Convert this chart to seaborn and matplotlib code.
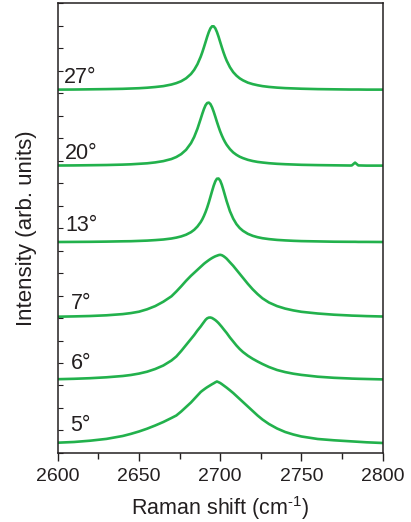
import matplotlib
matplotlib.use("Agg")
import matplotlib.pyplot as plt
import seaborn as sns
import pandas as pd

# Raman shift sample positions (cm^-1)
raman_shift = [2600, 2610, 2620, 2630, 2640, 2645, 2650, 2655, 2660, 2665,
               2670, 2673, 2676, 2679, 2682, 2684, 2686, 2688, 2689, 2690,
               2691, 2692, 2693, 2694, 2695, 2696, 2697, 2698, 2699, 2700,
               2701, 2702, 2703, 2704, 2706, 2708, 2710, 2712, 2714, 2717,
               2720, 2723, 2726, 2730, 2735, 2740, 2745, 2750, 2760, 2770,
               2780, 2781, 2783, 2785, 2790, 2800]

# intensities above each spectrum's own baseline (arb. units)
i_27 = [0.4, 0.5, 0.7, 0.9, 1.2, 1.5, 1.8, 2.3, 3.0, 3.9,
        5.5, 6.9, 8.8, 11.7, 16.0, 20.2, 25.8, 33.3, 37.8, 42.8,
        48.0, 53.3, 58.0, 61.7, 63.7, 63.7, 61.7, 58.0, 53.3, 48.0,
        42.8, 37.8, 33.3, 29.3, 22.8, 17.9, 14.4, 11.7, 9.7, 7.4,
        5.9, 4.8, 3.9, 3.1, 2.4, 1.9, 1.6, 1.3, 0.9, 0.7,
        0.5, 0.5, 0.5, 0.5, 0.4, 0.4]
i_20 = [0.5, 0.6, 0.8, 1.0, 1.4, 1.7, 2.2, 2.7, 3.6, 4.9,
        7.0, 9.0, 11.9, 16.2, 22.8, 29.1, 37.3, 47.2, 52.3, 57.0,
        60.8, 63.0, 63.4, 61.9, 58.7, 54.3, 49.3, 44.1, 39.2, 34.6,
        30.6, 27.0, 23.9, 21.2, 16.9, 13.6, 11.2, 9.3, 7.9, 6.2,
        5.0, 4.1, 3.5, 2.8, 2.2, 1.8, 1.5, 1.2, 0.9, 0.7,
        0.5, 0.6, 3.4, 0.6, 0.4, 0.4]
i_13 = [0.3, 0.4, 0.5, 0.7, 1.0, 1.1, 1.4, 1.7, 2.2, 2.8,
        3.8, 4.7, 5.9, 7.6, 10.1, 12.5, 15.8, 20.2, 23.0, 26.4,
        30.3, 34.8, 39.9, 45.5, 51.2, 56.6, 61.0, 63.6, 63.8, 61.7,
        57.6, 52.3, 46.6, 41.0, 31.1, 23.7, 18.2, 14.3, 11.5, 8.5,
        6.5, 5.1, 4.1, 3.2, 2.4, 1.9, 1.5, 1.2, 0.9, 0.6,
        0.5, 0.5, 0.5, 0.4, 0.4, 0.3]
i_7 = [0.6, 0.9, 1.3, 2.0, 3.2, 4.2, 5.6, 8.0, 11.2, 15.6,
       21.0, 25.8, 31.0, 36.5, 41.5, 44.5, 47.5, 50.5, 52.0, 53.5,
       54.8, 56.0, 57.2, 58.3, 59.3, 60.2, 61.0, 61.6, 62.2, 62.5,
       62.1, 61.2, 60.0, 58.6, 55.0, 51.5, 47.5, 43.5, 39.5, 33.5,
       28.0, 23.2, 19.0, 14.8, 11.2, 8.7, 6.9, 5.5, 3.8, 2.6,
       1.8, 1.7, 1.6, 1.5, 1.2, 0.8]
i_6 = [0.8, 1.2, 1.8, 2.7, 4.0, 5.0, 6.4, 8.3, 11.0, 14.5,
       19.5, 23.5, 29.0, 35.0, 41.0, 45.0, 49.5, 53.5, 55.8, 58.0,
       60.2, 61.7, 62.4, 62.5, 62.0, 61.0, 59.9, 58.5, 56.9, 55.0,
       53.1, 51.0, 49.0, 47.0, 42.5, 38.5, 34.5, 31.0, 28.0, 24.3,
       21.2, 18.5, 16.0, 13.0, 10.0, 7.9, 6.3, 5.1, 3.3, 2.2,
       1.5, 1.4, 1.3, 1.2, 1.0, 0.6]
i_5 = [0.8, 1.5, 2.8, 4.6, 7.5, 9.6, 12.0, 14.8, 18.0, 21.5,
       25.5, 28.0, 32.0, 36.5, 41.0, 44.5, 48.0, 51.5, 52.8, 54.0,
       55.2, 56.3, 57.3, 58.3, 59.3, 60.2, 61.2, 62.0, 61.3, 60.5,
       59.4, 58.2, 57.0, 55.8, 53.2, 50.5, 47.5, 44.5, 41.5, 37.0,
       32.5, 28.0, 24.0, 19.5, 15.0, 11.5, 9.0, 7.0, 4.5, 3.2,
       2.2, 2.1, 1.9, 1.7, 1.2, 0.5]

angle_labels = ["27°", "20°", "13°", "7°", "6°", "5°"]
spectra = [i_27, i_20, i_13, i_7, i_6, i_5]
offsets = [363.0, 287.0, 210.7, 135.7, 73.0, 9.5]
label_x = [2603.9, 2604.5, 2604.5, 2608.0, 2607.8, 2607.4]
label_y = [376.0, 299.5, 227.5, 149.5, 89.0, 27.0]

rows = []
for lab, vals, off in zip(angle_labels, spectra, offsets):
    for x, v in zip(raman_shift, vals):
        rows.append({"shift": x, "intensity": v + off, "angle": lab})
df = pd.DataFrame(rows)

sns.set_style("ticks")
plt.rcParams["font.family"] = ["Liberation Sans", "DejaVu Sans"]
plt.rcParams["mathtext.fontset"] = "custom"
plt.rcParams["mathtext.rm"] = "Liberation Sans"
plt.rcParams["mathtext.it"] = "Liberation Sans:italic"
plt.rcParams["mathtext.default"] = "regular"

fig = plt.figure(figsize=(4.11, 5.22), dpi=100)
ax = fig.add_axes([0.1404, 0.1322, 0.7907, 0.862])

green = "#22b14c"
for lab in angle_labels:
    sub = df[df["angle"] == lab]
    sns.lineplot(data=sub, x="shift", y="intensity", color=green,
                 linewidth=1.9, estimator=None, ax=ax, legend=False)

for lab, lx, ly in zip(angle_labels, label_x, label_y):
    ax.text(lx, ly, lab, fontsize=15.5, color="#231f20", ha="left", va="center")

ax.set_xlim(2600, 2800)
ax.set_ylim(0, 450)
ax.set_xticks([2600, 2650, 2700, 2750, 2800])
ax.set_xticks([2625, 2675, 2725, 2775], minor=True)
ax.set_yticks([22.5 * k for k in range(21)])
ax.set_yticklabels([])
ax.tick_params(axis="x", direction="out", length=6, width=1.0, labelsize=14,
               colors="#231f20", pad=5)
ax.tick_params(axis="x", which="minor", direction="out", length=4, width=1.0,
               colors="#231f20")
ax.tick_params(axis="y", direction="in", length=3.5, width=0.8, colors="#231f20")
for s in ax.spines.values():
    s.set_linewidth(1.1)
    s.set_color("#231f20")
    s.set_visible(True)

ax.set_xlabel("Raman shift (cm$^{\\text{-}1}$)", fontsize=15.5, color="#231f20",
              labelpad=6)
ax.set_ylabel("Intensity (arb. units)", fontsize=16, color="#231f20")
ax.yaxis.set_label_coords(-0.064, 0.5)

fig.savefig("out.png", dpi=100)
